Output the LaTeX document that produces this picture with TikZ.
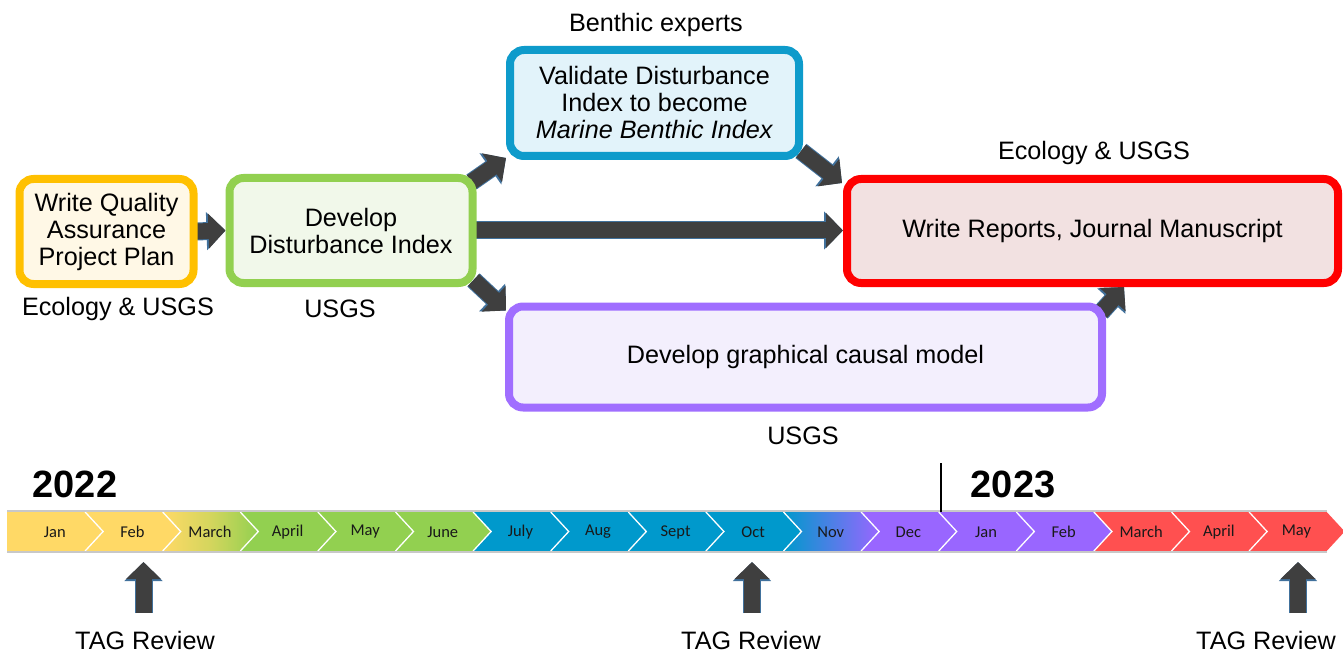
\documentclass[tikz,border=0pt]{standalone}
\usepackage{fontspec}
\setmainfont{Liberation Sans}
\newfontfamily\calfont{Carlito}
\usetikzlibrary{arrows.meta,backgrounds}
\definecolor{cyel}{HTML}{FFD966}
\definecolor{cgrn}{HTML}{92D050}
\definecolor{cblu}{HTML}{0099CC}
\definecolor{cpur}{HTML}{9966FF}
\definecolor{cred}{HTML}{FF5050}
\definecolor{cdark}{HTML}{3F3F3F}
\definecolor{cedge}{HTML}{41719C}
\definecolor{bqa}{HTML}{FFC000}
\definecolor{fqa}{HTML}{FFF8E6}
\definecolor{bdi}{HTML}{92D050}
\definecolor{fdi}{HTML}{F1F8EA}
\definecolor{bval}{HTML}{0E9BCB}
\definecolor{fval}{HTML}{E2F3FA}
\definecolor{brep}{HTML}{FF0000}
\definecolor{frep}{HTML}{F2E1E1}
\definecolor{bcgm}{HTML}{A06EFF}
\definecolor{fcgm}{HTML}{F3EFFD}
\definecolor{cline}{HTML}{C8C8C8}
\begin{document}
\begin{tikzpicture}[x=1pt,y=-1pt,
  box/.style={rounded corners=14pt, line width=8pt, align=center, inner sep=0pt,
    font=\fontsize{25.2}{27}\selectfont},
  lbl/.style={font=\fontsize{25.2}{27}\selectfont, inner sep=0pt},
  blk/.style={line width=16pt, draw=cdark, -{Triangle[width=34pt,length=17pt]},
    preaction={draw=cedge, line width=18pt, -{Triangle[width=37pt,length=19pt]}}},
  month/.style={font=\calfont\fontsize{16.5}{18}\selectfont, text=black!90, inner sep=0pt},
  year/.style={font=\bfseries\fontsize{38}{40}\selectfont, inner sep=0pt},
  sep/.style={draw=white, line width=1.3pt}
]
\useasboundingbox (0,0) rectangle (1343,652);

% boxes
\node[box, draw=bqa, fill=fqa, minimum width=174pt, minimum height=105pt] (qa) at (106.5,231.5)
  {Write Quality\\Assurance\\Project Plan};
\node[box, draw=bdi, fill=fdi, minimum width=243pt, minimum height=105pt] (di) at (351,230.5)
  {Develop\\Disturbance Index};
\node[box, draw=bval, fill=fval, minimum width=289pt, minimum height=106pt] (val) at (654.5,103)
  {Validate Disturbance\\Index to become\\\textit{Marine Benthic Index}};
\node[box, draw=brep, fill=frep, minimum width=491pt, minimum height=104pt] (rep) at (1092.5,231)
  {Write Reports, Journal Manuscript};
\node[box, draw=bcgm, fill=fcgm, minimum width=593pt, minimum height=101pt] (cgm) at (805.5,357)
  {Develop graphical causal model};

% labels
\node[lbl] (lbenth) at (656,25) {Benthic experts};
\node[lbl] (leco1) at (1094,153) {Ecology \& USGS};
\node[lbl] (leco2) at (118,309) {Ecology \& USGS};
\node[lbl] (lusgs1) at (340,309) {USGS};
\node[lbl] (lusgs2) at (803,436) {USGS};

% arrows
\begin{scope}[on background layer]
\draw[blk] ([shift={(-2,0)}]qa.east) -- ([shift={(0,0)}]di.west);
\draw[blk] ([shift={(-4,0)}]di.east) -- ([shift={(0,-0.5)}]rep.west);
\draw[blk] ([shift={(-5,8)}]di.north east) -- ([shift={(0,-2)}]val.south west);
\draw[blk] ([shift={(-2,-9)}]val.south east) -- ([shift={(-1,8)}]rep.north west);
\draw[blk] ([shift={(-3,-7)}]di.south east) -- ([shift={(1,8)}]cgm.north west);
\draw[blk] ([shift={(-5,10)}]cgm.north east) -- ([shift={(281,0)}]rep.south west);
\end{scope}

% timeline
\foreach \k/\c in {0/cyel,1/cyel,3/cgrn,4/cgrn,5/cgrn,6/cblu,7/cblu,8/cblu,9/cblu,11/cpur,12/cpur,13/cpur,14/cred,15/cred,16/cred}{
  \pgfmathsetmacro\L{7.5+77.6*\k}
  \pgfmathsetmacro\R{7.5+77.6*(\k+1)}
  \fill[\c] (\L,512) -- (\R,512) -- (\R+18,531.5) -- (\R,551) -- (\L,551) -- (\L+18,531.5) -- cycle;
}
\fill[cyel] (7,512) rectangle (26,551);
\pgfmathsetmacro\L{7.5+77.6*2}
\pgfmathsetmacro\R{7.5+77.6*3}
\shade[left color=cyel, right color=cgrn, middle color=cyel!60!cgrn] (\L,512) -- (\R,512) -- (\R+18,531.5) -- (\R,551) -- (\L,551) -- (\L+18,531.5) -- cycle;
\pgfmathsetmacro\L{7.5+77.6*10}
\pgfmathsetmacro\R{7.5+77.6*11}
\shade[left color=cblu, right color=cpur] (\L,512) -- (\R,512) -- (\R+18,531.5) -- (\R,551) -- (\L,551) -- (\L+18,531.5) -- cycle;
\foreach \k in {1,...,16}{
  \pgfmathsetmacro\L{7.5+77.6*\k}
  \draw[sep] (\L,512) -- (\L+18,531.5) -- (\L,551);
}
\draw[cline, line width=1.5pt] (7,511) -- (1327,511);
\draw[cline, line width=1.5pt] (7,552) -- (1327,552);
\foreach \k/\m in {0/Jan,1/Feb,2/March,3/April,4/May,5/June,6/July,7/Aug,8/Sept,9/Oct,10/Nov,11/Dec,12/Jan,13/Feb,14/March,15/April,16/May}{
  \pgfmathsetmacro\L{7.5+77.6*\k}
  \node[month] (m\k) at (\L+47.3,532) {\m};
}

% years
\node[year] (y22) at (75,484) {2022};
\node[year] (y23) at (1013,484) {2023};
\draw[line width=2.5pt] (941,463) -- (941,512);

% TAG reviews
\node[lbl] (tag1) at (145,640) {TAG Review};
\node[lbl] (tag2) at (751,640) {TAG Review};
\node[lbl] (tag3) at (1266,640) {TAG Review};
\coordinate (a1b) at (143.5,613); \coordinate (a1t) at (143.5,562);
\coordinate (a2b) at (752,613);   \coordinate (a2t) at (752,562);
\coordinate (a3b) at (1298,613);  \coordinate (a3t) at (1298,562);
\draw[blk] (a1b) -- (a1t);
\draw[blk] (a2b) -- (a2t);
\draw[blk] (a3b) -- (a3t);
\end{tikzpicture}
\end{document}
